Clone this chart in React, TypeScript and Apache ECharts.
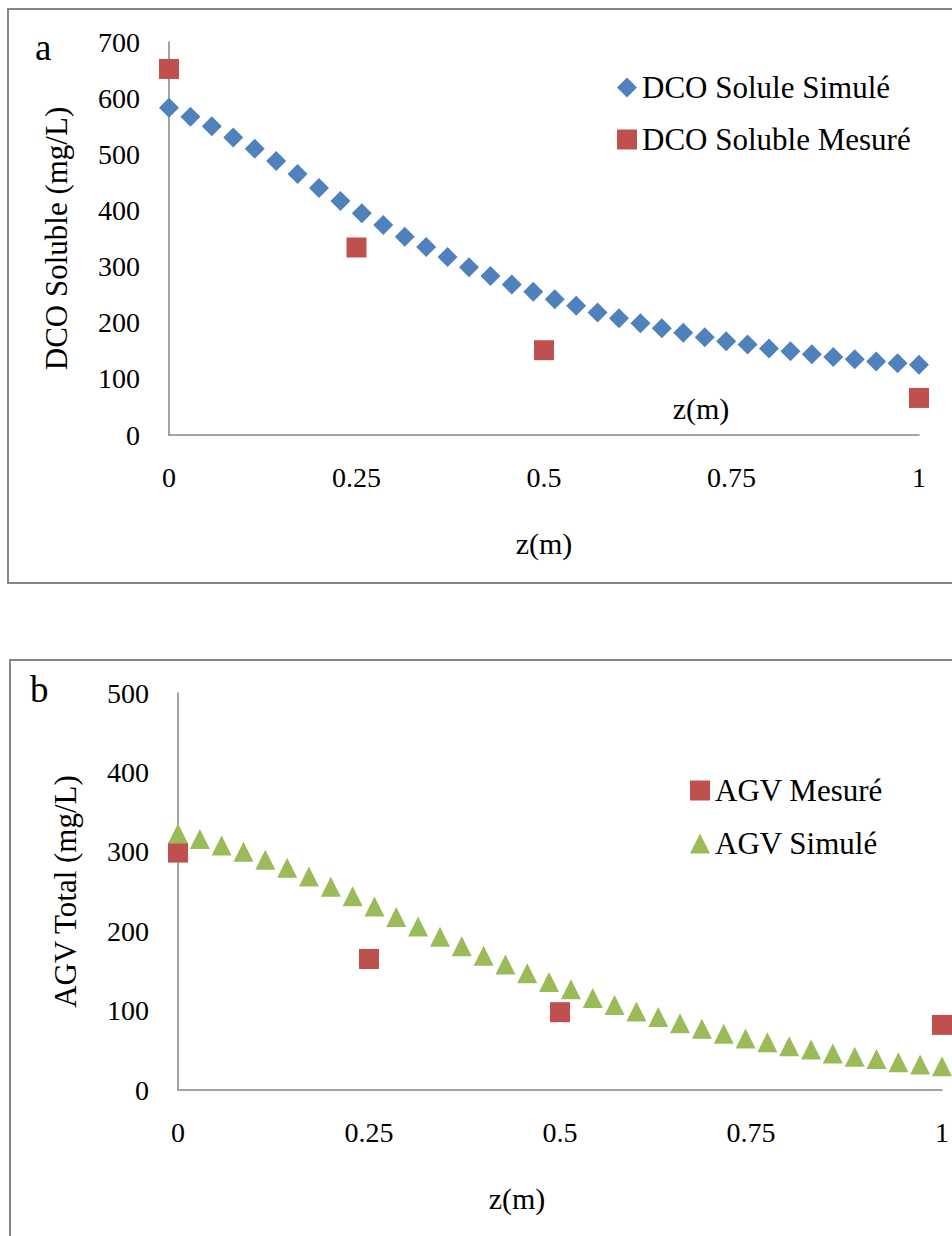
import React, { useEffect, useRef } from "react";
import * as echarts from "echarts";

// z positions (m) of the simulated profiles
const zSim = [
  0, 0.0286, 0.0571, 0.0857, 0.1143, 0.1429, 0.1714, 0.2, 0.2286, 0.2571, 0.2857, 0.3143,
  0.3429, 0.3714, 0.4, 0.4286, 0.4571, 0.4857, 0.5143, 0.5429, 0.5714, 0.6, 0.6286, 0.6571,
  0.6857, 0.7143, 0.7429, 0.7714, 0.8, 0.8286, 0.8571, 0.8857, 0.9143, 0.9429, 0.9714, 1,
];
const dcoSimule = [
  583, 567, 550, 530, 510, 488, 465, 440, 417, 395, 374, 353, 335, 317, 299, 283, 268, 255,
  242, 230, 218, 208, 199, 190, 182, 174, 167, 161, 154, 149, 144, 139, 135, 131, 128, 125,
];
const zMes = [0, 0.25, 0.5, 1];
const dcoMesure = [652, 334, 151, 66];

const agvSimule = [
  323, 316, 308, 300, 290, 280, 269, 256, 244, 231, 218, 206, 193, 181, 169, 158, 147, 136,
  127, 116, 107, 99, 92, 84, 77, 71, 65, 60, 55, 51, 46, 42, 39, 35, 32, 30,
];
const agvMesure = [299, 165, 98, 82];

const BLUE = "#4F81BD";
const RED = "#C0504D";
const GREEN = "#9BBB59";
const AXIS = "#868686";
const FONT = "'Liberation Serif', 'Times New Roman', serif";

const pairs = (xs: number[], ys: number[]) => xs.map((x, i) => [x, ys[i]]);

export default function App() {
  const ref = useRef<HTMLDivElement>(null);
  useEffect(() => {
    if (!ref.current) return;
    const chart = echarts.init(ref.current, null, { renderer: "svg" });
    const axisLine = { show: true, lineStyle: { color: AXIS, width: 1.5 } };
    const tickLabel = { fontFamily: FONT, fontSize: 28, color: "#000" };
    const xAxisBase = {
      type: "value",
      min: 0,
      max: 1,
      interval: 0.25,
      axisLine,
      axisTick: { show: false },
      splitLine: { show: false },
      axisLabel: { ...tickLabel, margin: 28 },
      name: "z(m)",
      nameLocation: "middle",
      nameGap: 93,
      nameTextStyle: { fontFamily: FONT, fontSize: 30, color: "#000" },
    };
    const yAxisBase = {
      type: "value",
      min: 0,
      interval: 100,
      axisLine,
      axisTick: { show: false },
      splitLine: { show: false },
      axisLabel: { ...tickLabel, margin: 29 },
      nameLocation: "middle",
      nameGap: 97,
      nameRotate: 90,
      nameTextStyle: { fontFamily: FONT, fontSize: 31, color: "#000" },
    };
    const legendText = { fontFamily: FONT, fontSize: 31, lineHeight: 30, color: "#000" };
    chart.setOption({
      animation: false,
      backgroundColor: "#fff",
      grid: [
        { left: 169, top: 42, width: 750, height: 393 },
        { left: 178, top: 693, width: 764, height: 397 },
      ],
      xAxis: [
        { ...xAxisBase, gridIndex: 0 },
        {
          ...xAxisBase,
          gridIndex: 1,
          nameTextStyle: { ...xAxisBase.nameTextStyle, padding: [0, 86, 0, 0] },
        },
      ],
      yAxis: [
        { ...yAxisBase, gridIndex: 0, max: 700, name: "DCO Soluble (mg/L)" },
        { ...yAxisBase, gridIndex: 1, max: 500, name: "AGV Total (mg/L)" },
      ],
      legend: [
        {
          orient: "vertical",
          left: 617,
          top: 72,
          padding: 0,
          itemWidth: 20,
          itemHeight: 20,
          itemGap: 21,
          textStyle: legendText,
          data: ["DCO Solule Simulé", "DCO Soluble Mesuré"],
        },
        {
          orient: "vertical",
          left: 690,
          top: 775,
          padding: 0,
          itemWidth: 20,
          itemHeight: 20,
          itemGap: 22,
          textStyle: legendText,
          data: ["AGV Mesuré", "AGV Simulé"],
        },
      ],
      series: [
        {
          name: "DCO Solule Simulé",
          type: "scatter",
          xAxisIndex: 0,
          yAxisIndex: 0,
          symbol: "diamond",
          symbolSize: 20,
          itemStyle: { color: BLUE, opacity: 1 },
          data: pairs(zSim, dcoSimule),
        },
        {
          name: "DCO Soluble Mesuré",
          type: "scatter",
          xAxisIndex: 0,
          yAxisIndex: 0,
          symbol: "rect",
          symbolSize: 20,
          itemStyle: { color: RED, opacity: 1 },
          data: pairs(zMes, dcoMesure),
        },
        {
          name: "AGV Mesuré",
          type: "scatter",
          xAxisIndex: 1,
          yAxisIndex: 1,
          symbol: "rect",
          symbolSize: 20,
          itemStyle: { color: RED, opacity: 1 },
          data: pairs(zMes, agvMesure),
        },
        {
          name: "AGV Simulé",
          type: "scatter",
          xAxisIndex: 1,
          yAxisIndex: 1,
          symbol: "triangle",
          symbolSize: 20,
          itemStyle: { color: GREEN, opacity: 1 },
          data: pairs(zSim, agvSimule),
        },
      ],
      graphic: [
        {
          type: "rect",
          silent: true,
          z: -1,
          shape: { x: 8, y: 9, width: 1000, height: 574 },
          style: { fill: "none", stroke: AXIS, lineWidth: 2 },
        },
        {
          type: "rect",
          silent: true,
          z: -1,
          shape: { x: 10, y: 660, width: 1000, height: 700 },
          style: { fill: "none", stroke: AXIS, lineWidth: 2 },
        },
        {
          type: "text",
          left: 35,
          top: 29,
          style: { text: "a", font: `37px ${FONT}`, fill: "#000" },
        },
        {
          type: "text",
          left: 30,
          top: 671,
          style: { text: "b", font: `37px ${FONT}`, fill: "#000" },
        },
        {
          type: "text",
          x: 701,
          y: 408,
          style: {
            text: "z(m)",
            font: `30px ${FONT}`,
            fill: "#000",
            align: "center",
            verticalAlign: "middle",
          },
        },
      ],
    });
    return () => chart.dispose();
  }, []);
  return (
    <div
      ref={ref}
      style={{ position: "absolute", left: 0, top: 0, width: 952, height: 1236 }}
    />
  );
}
